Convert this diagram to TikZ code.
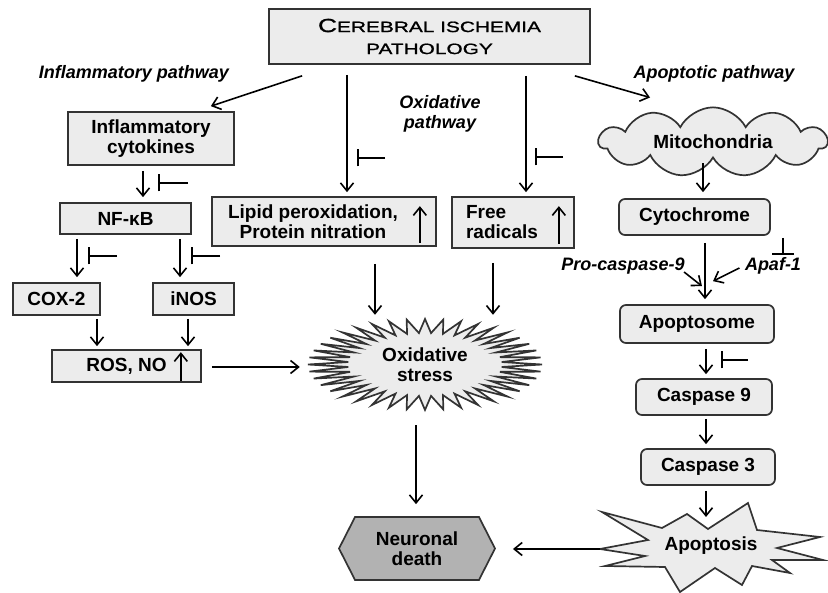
\documentclass[tikz,border=0pt]{standalone}
\usepackage{fontspec}
\setmainfont{Liberation Sans}
\newfontfamily\titlefont{Liberation Sans}[FakeStretch=1.39,FakeBold=1.2]
\usetikzlibrary{arrows.meta,shapes.geometric,shapes.symbols}

\tikzset{
  box/.style={draw=black!80, fill=gray!15, line width=1.7pt, inner sep=0pt},
  rbox/.style={box, rounded corners=6pt},
  lbl/.style={font=\fontsize{18}{20}\selectfont\bfseries\itshape},
  arr/.style={line width=1.6pt, -{Straight Barb[length=8pt,width=13pt,line width=1.6pt]}},
  inh/.style={line width=1.6pt, -{Bar[width=#1,line width=1.6pt]}},
  inh/.default=17pt,
  burst/.style={draw=black!80, fill=gray!15, line width=1.7pt, line join=miter}
}

\begin{document}
\begin{tikzpicture}[x=1pt,y=-1pt,
    every node/.style={font=\fontsize{19}{20}\selectfont\bfseries, align=center}]
  \useasboundingbox (0,0) rectangle (828,593);

  % top
  \node[box, minimum width=321pt, minimum height=55pt,
        font=\titlefont\fontsize{15}{22}\selectfont] (title) at (429.5,36.5)
        {{\fontsize{19}{22}\selectfont C}EREBRAL ISCHEMIA\\PATHOLOGY};
  \node[lbl] (inflab) at (134,74) {Inflammatory pathway};
  \node[lbl] (oxlab) at (440,114) {Oxidative\\pathway};
  \node[lbl] (apolab) at (714,74) {Apoptotic pathway};

  % inflammatory pathway
  \node[box, minimum width=166pt, minimum height=53pt] (cyto) at (151,138.5) {Inflammatory\\cytokines};
  \node[box, minimum width=131pt, minimum height=31pt] (nfkb) at (125.5,218.5) {NF-κB};
  \node[box, minimum width=87pt, minimum height=32pt] (cox) at (56.5,299) {COX-2};
  \node[box, minimum width=81pt, minimum height=32pt] (inos) at (193.5,299) {iNOS};
  \node[box, minimum width=149pt, minimum height=32pt] (ros) at (126.5,366) {ROS, NO};

  % oxidative pathway
  \node[box, minimum width=224pt, minimum height=49pt,
        label={[xshift=-11pt]center:Lipid peroxidation,\\Protein nitration}] (lipid) at (324,221.5) {};
  \node[box, minimum width=122pt, minimum height=51pt,
        label={[xshift=-11pt,align=left]center:Free\\radicals}] (free) at (513,222.5) {};

  \coordinate (sc) at (425,364.5);
  \begin{scope}[shift={(sc)}]
    \draw[burst] (117,0)
      \foreach \i [evaluate=\i as \ang using {\i*4.5},
                   evaluate=\i as \rx using {117-40*mod(\i,2)},
                   evaluate=\i as \ry using {45.5-14*mod(\i,2)}] in {1,...,79}
        { -- ({\rx*cos(\ang)},{\ry*sin(\ang)}) } -- cycle;
  \end{scope}
  \node[ellipse, minimum width=234pt, minimum height=91pt, inner sep=0pt] (stress) at (sc) {Oxidative\\stress};

  \node[signal, signal to=west and east, signal pointer angle=126, draw=black!80, fill=black!30,
        line width=1.7pt, inner sep=0pt, minimum width=156pt, minimum height=63pt] (death) at (417,548.5) {Neuronal\\death};

  % apoptotic pathway
  \node[cloud, cloud puffs=11, cloud puff arc=125, aspect=4, draw=black!80, fill=gray!15,
        line width=1.7pt, inner sep=0pt, minimum width=228pt, minimum height=51pt] (mito) at (713,142) {Mitochondria};
  \node[rbox, minimum width=151pt, minimum height=36pt] (cytc) at (694.5,217) {Cytochrome};
  \node[lbl] (procasp) at (623,266) {Pro-caspase-9};
  \node[lbl] (apaf) at (773,266) {Apaf-1};
  \node[rbox, minimum width=154pt, minimum height=38pt] (apopt) at (697,324) {Apoptosome};
  \node[rbox, minimum width=136pt, minimum height=36pt] (casp9) at (704,397) {Caspase 9};
  \node[rbox, minimum width=134pt, minimum height=36pt] (casp3) at (708,467) {Caspase 3};

  \coordinate (ac) at (711,546);
  \draw[burst] (600,549) -- (648,540) -- (602,512) -- (662,528) -- (687,514) -- (708,529)
    -- (748,503) -- (757,530) -- (820,537) -- (777,548) -- (823,560) -- (772,560)
    -- (790,573) -- (752,566) -- (742,585) -- (715,568) -- (680,592) -- (665,567)
    -- (605,566) -- (645,556) -- cycle;
  \node[ellipse, minimum width=222pt, minimum height=87pt, inner sep=0pt] (apoptosis) at (ac) {Apoptosis};

  % arrows
  \draw[arr] ([shift={(34,11)}]title.south west) -- ([shift={(-24,-5)}]cyto.north east);
  \draw[arr] ([shift={(-82.5,10)}]title.south) -- ([shift={(23,-4)}]lipid.north);
  \draw[arr] ([shift={(96.5,11)}]title.south) -- ([shift={(13,-4)}]free.north);
  \draw[arr] ([shift={(-16,11)}]title.south east) -- ([shift={(-63,-9)}]mito.north);
  \draw[arr] ([shift={(-8,5)}]cyto.south) -- ([shift={(17.5,-5)}]nfkb.north);
  \draw[arr] ([shift={(-48.5,4)}]nfkb.south) -- ([shift={(20.5,-5)}]cox.north);
  \draw[arr] ([shift={(54.5,4)}]nfkb.south) -- ([shift={(-13.5,-5)}]inos.north);
  \draw[arr] ([shift={(40.5,3)}]cox.south) -- ([shift={(-29.5,-3)}]ros.north);
  \draw[arr] ([shift={(-5.5,3)}]inos.south) -- ([shift={(61.5,-3)}]ros.north);
  \draw[arr] ([shift={(10,1)}]ros.east) -- ([shift={(-8,2.5)}]stress.west);
  \draw[arr] ([shift={(51,17)}]lipid.south) -- ([shift={(-50,-4)}]stress.north);
  \draw[arr] ([shift={(-20,14)}]free.south) -- ([shift={(68,-4)}]stress.north);
  \draw[arr] ([shift={(-9,15)}]stress.south) -- ([shift={(-1,-12)}]death.north);
  \draw[arr] ([shift={(0,3)}]apoptosis.west) -- ([shift={(17,0.5)}]death.east);
  \draw[arr] ([shift={(-10,4)}]mito.south) -- ([shift={(8.5,-6)}]cytc.north);
  \draw[arr] ([shift={(10.5,7)}]cytc.south) -- ([shift={(8,-5)}]apopt.north);
  \draw[arr] ([shift={(-4,6)}]procasp.east) -- ([shift={(5,-18)}]apopt.north);
  \draw[arr] ([shift={(-2,2)}]apaf.west) -- ([shift={(16,-23)}]apopt.north);
  \draw[arr] ([shift={(9,5)}]apopt.south) -- ([shift={(2,-4)}]casp9.north);
  \draw[arr] ([shift={(2,3)}]casp9.south) -- ([shift={(-2,-4)}]casp3.north);
  \draw[arr] ([shift={(-2,5)}]casp3.south) -- ([shift={(-5,-29)}]ac);

  % increase arrows
  \draw[arr] ([shift={(-17,-4)}]lipid.south east) -- ([shift={(-17,10)}]lipid.north east);
  \draw[arr] ([shift={(-16,-5)}]free.south east) -- ([shift={(-16,10)}]free.north east);
  \draw[arr] ([shift={(-21,-2)}]ros.south east) -- ([shift={(-21,3)}]ros.north east);

  % inhibition
  \draw[inh] (385,158) -- (357,158);
  \draw[inh] (563,157) -- (535,157);
  \draw[inh] (188,183) -- (158,183);
  \draw[inh] (117,256) -- (88,256);
  \draw[inh] (220,256) -- (191,256);
  \draw[inh] (748,360) -- (721,360);
  \draw[inh=22pt] (783,238) -- (783,255);
\end{tikzpicture}
\end{document}
